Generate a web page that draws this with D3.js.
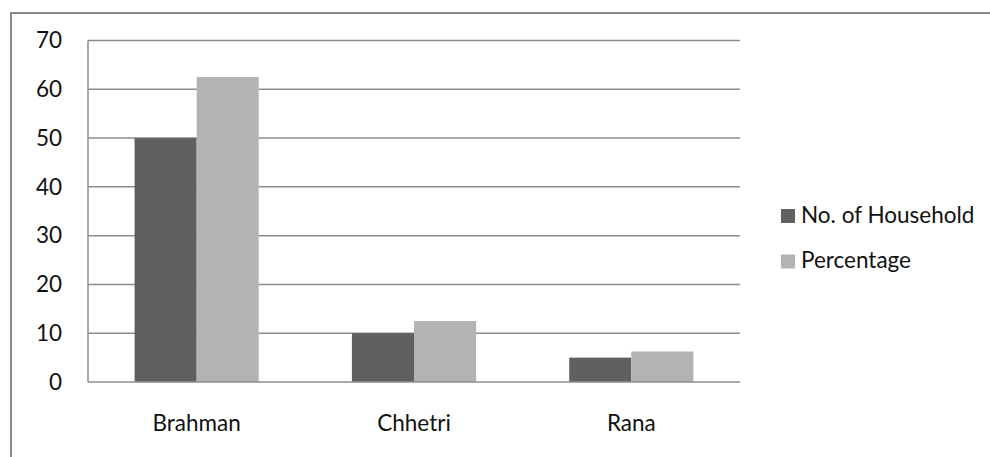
<!DOCTYPE html>
<html>
<head>
<meta charset="utf-8">
<script src="https://cdn.jsdelivr.net/npm/d3@7/dist/d3.min.js"></script>
<style>
  html, body { margin: 0; padding: 0; background: #fff; }
  svg text { font-family: Lato, "Liberation Sans", sans-serif; fill: #111; }
</style>
</head>
<body>
<svg id="chart" width="990" height="457"></svg>
<script>
// Households by caste group
const categories = ["Brahman", "Chhetri", "Rana"];
const seriesNames = ["No. of Household", "Percentage"];
const households = [50, 10, 5];
const percentage = [62.5, 12.5, 6.25];
const yTicks = [0, 10, 20, 30, 40, 50, 60, 70];
const colors = ["#606060", "#b3b3b3"];

const FONT = "Lato, 'Liberation Sans', sans-serif";
const FS = "22.5px";

const svg = d3.select("#chart");
const W = 990, H = 457;
const plot = { left: 88, right: 740, top: 40.5, bottom: 382 };

// outer chart frame (runs off the right and bottom edges)
svg.append("rect")
  .attr("x", 11).attr("y", 13)
  .attr("width", W + 20).attr("height", H + 20)
  .attr("fill", "#fff").attr("stroke", "#8a8a8a").attr("stroke-width", 2);

const x0 = d3.scaleBand().domain(categories)
  .range([plot.left, plot.right]).paddingInner(1.5 / 3.5).paddingOuter(0.75 / 3.5);
const x1 = d3.scaleBand().domain(seriesNames).range([0, x0.bandwidth()]);
const y = d3.scaleLinear().domain([0, 70]).range([plot.bottom, plot.top]);

// gridlines
svg.append("g").selectAll("line").data(yTicks.filter(d => d > 0)).join("line")
  .attr("x1", plot.left).attr("x2", plot.right)
  .attr("y1", d => y(d)).attr("y2", d => y(d))
  .attr("stroke", "#8c8c8c").attr("stroke-width", 1.5);

// bars
const rows = categories.map((c, i) => ({ cat: c, vals: [households[i], percentage[i]] }));
svg.append("g").selectAll("g").data(rows).join("g")
  .attr("transform", d => `translate(${x0(d.cat)},0)`)
  .selectAll("rect").data(d => d.vals.map((v, j) => ({ v, s: seriesNames[j], j })))
  .join("rect")
  .attr("x", d => x1(d.s)).attr("width", x1.bandwidth())
  .attr("y", d => y(d.v)).attr("height", d => y(0) - y(d.v))
  .attr("fill", d => colors[d.j]);

// axis lines
svg.append("line").attr("x1", plot.left).attr("x2", plot.left)
  .attr("y1", plot.top).attr("y2", plot.bottom)
  .attr("stroke", "#8c8c8c").attr("stroke-width", 1.5);
svg.append("line").attr("x1", plot.left).attr("x2", plot.right)
  .attr("y1", plot.bottom).attr("y2", plot.bottom)
  .attr("stroke", "#8c8c8c").attr("stroke-width", 1.5);

// y tick labels
const yAxis = d3.axisLeft(y).tickValues(yTicks).tickSize(0).tickPadding(26);
const ya = svg.append("g").attr("transform", `translate(${plot.left},0)`).call(yAxis);
ya.select(".domain").remove();
ya.selectAll("text").style("font-size", FS).attr("fill", "#111").style("font-family", FONT);

// x category labels
const xAxis = d3.axisBottom(x0).tickSize(0).tickPadding(33);
const xa = svg.append("g").attr("transform", `translate(0,${plot.bottom})`).call(xAxis);
xa.select(".domain").remove();
xa.selectAll("text").style("font-size", FS).attr("fill", "#111").style("font-family", FONT);

// legend
const legend = svg.append("g").attr("transform", "translate(781,209)");
seriesNames.forEach((name, i) => {
  const g = legend.append("g").attr("transform", `translate(0,${i * 45.5})`);
  g.append("rect").attr("width", 14).attr("height", 14).attr("fill", colors[i]);
  g.append("text").attr("x", 20).attr("y", 13.5)
    .style("font-size", FS).style("font-family", FONT).text(name);
});
</script>
</body>
</html>
